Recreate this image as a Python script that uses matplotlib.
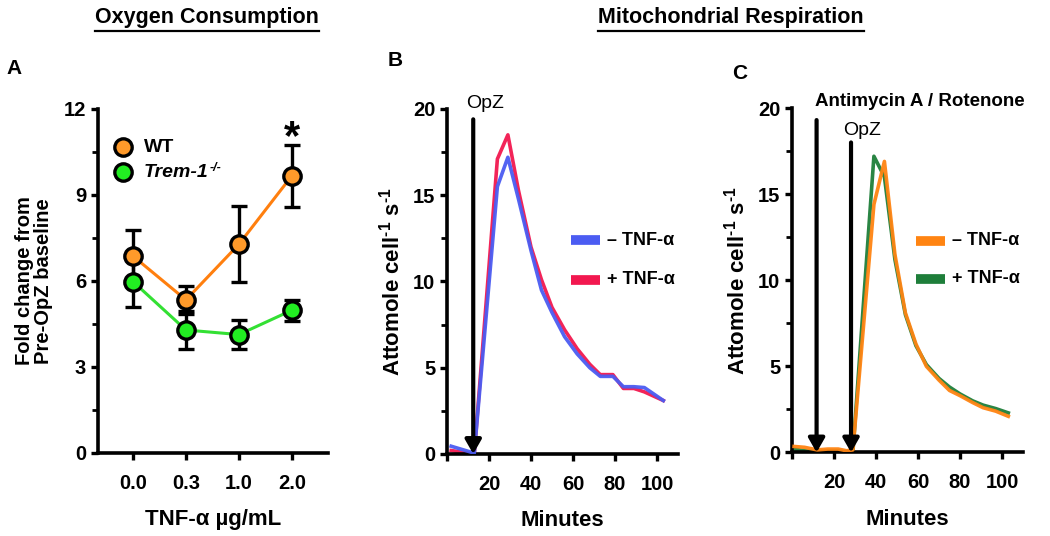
import matplotlib
matplotlib.use("Agg")
import matplotlib.pyplot as plt
from matplotlib.lines import Line2D
from matplotlib.ticker import MultipleLocator

plt.rcParams["font.family"] = ["Liberation Sans", "DejaVu Sans"]
plt.rcParams["mathtext.fontset"] = "custom"
plt.rcParams["mathtext.rm"] = "Liberation Sans:bold"
plt.rcParams["mathtext.bf"] = "Liberation Sans:bold"
plt.rcParams["mathtext.it"] = "Liberation Sans:italic:bold"

# Panel A: oxygen consumption (fold change), mean +/- error
doses = ["0.0", "0.3", "1.0", "2.0"]
wt_mean = [6.87, 5.34, 7.28, 9.67]
wt_err = [0.92, 0.50, 1.32, 1.08]
ko_mean = [5.98, 4.29, 4.13, 4.98]
ko_err = [0.90, 0.65, 0.52, 0.36]

# Panel B: respiration after OpZ, WT cells
b_min = [2, 13, 24, 29, 34, 40, 45, 50, 56, 62, 68, 73, 79, 84, 89, 94, 103]
b_minus = [0.45, 0.05, 15.5, 17.2, 14.8, 11.8, 9.5, 8.2, 6.8, 5.8, 5.0, 4.5, 4.5, 3.9, 3.9, 3.85, 3.1]
b_plus = [0.2, 0.0, 17.1, 18.5, 15.3, 12.0, 10.1, 8.5, 7.2, 6.1, 5.2, 4.6, 4.6, 3.8, 3.8, 3.6, 3.1]
b_opz = 12.5

# Panel C: respiration with antimycin A / rotenone then OpZ
c_min = [1, 6, 12, 17, 22, 26, 29, 39, 44, 49, 54, 59, 64, 70, 75, 80, 86, 91, 97, 103]
c_minus = [0.35, 0.3, 0.15, 0.2, 0.2, 0.1, 0.15, 14.4, 16.9, 11.5, 8.1, 6.3, 5.0, 4.2,
           3.6, 3.3, 2.9, 2.6, 2.4, 2.1]
c_plus = [0.2, 0.1, 0.05, 0.1, 0.1, 0.0, 0.05, 17.2, 16.0, 11.2, 8.0, 6.2, 5.1, 4.3,
          3.8, 3.4, 3.0, 2.75, 2.55, 2.3]
c_aa = 11.7
c_opz = 28.1

ORANGE = "#ff7f0e"
ORANGE_FACE = "#ff9a2a"
LIME = "#33e033"
LIME_FACE = "#22ee22"
BLUE = "#4b5cf2"
RED = "#f2184f"
C_ORANGE = "#ff8412"
C_GREEN = "#1e7e3a"

fig = plt.figure(figsize=(10.5, 5.36), dpi=100)


def style(ax):
    for s in ("top", "right"):
        ax.spines[s].set_visible(False)
    for s in ("left", "bottom"):
        ax.spines[s].set_linewidth(2.6)
    ax.tick_params(which="major", width=2.4, length=5, labelsize=14.5)
    ax.tick_params(which="minor", width=2.0, length=4)
    ax.tick_params(axis="x", which="minor", length=0)
    for lab in ax.get_xticklabels() + ax.get_yticklabels():
        lab.set_fontweight("bold")


# ---- A ----
axA = fig.add_axes([0.0933, 0.1549, 0.219, 0.6418])
xs = range(len(doses))
axA.plot(xs, wt_mean, color=ORANGE, lw=2.2, zorder=2)
axA.plot(xs, ko_mean, color=LIME, lw=2.2, zorder=2)
axA.errorbar(xs, wt_mean, yerr=wt_err, fmt="none", ecolor="k", elinewidth=2.4,
             capsize=6, capthick=2.4, zorder=3)
axA.errorbar(xs, ko_mean, yerr=ko_err, fmt="none", ecolor="k", elinewidth=2.4,
             capsize=6, capthick=2.4, zorder=3)
axA.plot(xs, wt_mean, "o", ms=12.5, mfc=ORANGE_FACE, mec="k", mew=2.4, zorder=4)
axA.plot(xs, ko_mean, "o", ms=12.5, mfc=LIME_FACE, mec="k", mew=2.4, zorder=4)
axA.set_xlim(-0.66, 3.68)
axA.set_ylim(0, 12)
axA.set_xticks(list(xs))
axA.set_xticklabels(doses)
axA.yaxis.set_major_locator(MultipleLocator(3))
axA.yaxis.set_minor_locator(MultipleLocator(1.5))
axA.tick_params(axis="x", pad=10)
style(axA)
axA.set_xlabel("TNF-\u03b1 \u00b5g/mL", fontsize=16, fontweight="bold", labelpad=12)
axA.set_ylabel("Fold change from\nPre-OpZ baseline", fontsize=14.5, fontweight="bold",
               linespacing=1.0, labelpad=8)
axA.text(3, 11.0, "*", ha="center", va="center", fontsize=30, fontweight="bold")
axA.plot([-0.19], [10.67], "o", ms=12.5, mfc=ORANGE_FACE, mec="k", mew=2.4, clip_on=False)
axA.plot([-0.19], [9.8], "o", ms=12.5, mfc=LIME_FACE, mec="k", mew=2.4, clip_on=False)
axA.text(0.2, 10.67, "WT", va="center", fontsize=14, fontweight="bold")
trem = axA.text(0.2, 9.8, "Trem-1", va="center", fontsize=14, fontweight="bold",
                fontstyle="italic")


def resp_panel(rect, x, y1, y2, col1, col2, leg_y1, leg_y2):
    ax = fig.add_axes(rect)
    ax.plot(x, y1, color=col1, lw=2.6, alpha=0.95, zorder=3)
    ax.plot(x, y2, color=col2, lw=2.6, alpha=0.95, zorder=2)
    ax.set_xlim(0, 110)
    ax.set_ylim(0, 20)
    ax.set_xticks([0, 20, 40, 60, 80, 100])
    ax.set_xticklabels(["", "20", "40", "60", "80", "100"])
    ax.yaxis.set_major_locator(MultipleLocator(5))
    ax.yaxis.set_minor_locator(MultipleLocator(2.5))
    ax.tick_params(axis="x", pad=10)
    style(ax)
    ax.set_xlabel("Minutes", fontsize=16, fontweight="bold", labelpad=12)
    ax.set_ylabel(r"Attomole cell$^{\text{-}1}$ s$^{\text{-}1}$", fontsize=16,
                  fontweight="bold", labelpad=6)
    ax.plot([59, 73], [leg_y1, leg_y1], color=col1, lw=7, solid_capstyle="butt",
            clip_on=False)
    ax.plot([59, 73], [leg_y2, leg_y2], color=col2, lw=7, solid_capstyle="butt",
            clip_on=False)
    ax.text(76, leg_y1, "\u2013 TNF-\u03b1", va="center", fontsize=13, fontweight="bold")
    ax.text(76, leg_y2, "+ TNF-\u03b1", va="center", fontsize=13, fontweight="bold")
    return ax


def arrow(ax, x, top):
    ax.annotate("", xy=(x, 0), xytext=(x, top), annotation_clip=False,
                arrowprops=dict(arrowstyle="-|>,head_length=0.7,head_width=0.4",
                                lw=3, color="k", shrinkA=0, shrinkB=0,
                                mutation_scale=12), zorder=5)


# ---- B ----
axB = resp_panel([0.4257, 0.153, 0.22, 0.6437], b_min, b_minus, b_plus, BLUE, RED,
                 12.4, 10.1)
arrow(axB, b_opz, 19.4)
axB.text(18, 20.3, "OpZ", ha="center", va="center", fontsize=14)

# ---- C ----
axC = resp_panel([0.7543, 0.1558, 0.22, 0.6427], c_min, c_minus, c_plus, C_ORANGE,
                 C_GREEN, 12.3, 10.1)
arrow(axC, c_aa, 19.3)
arrow(axC, c_opz, 18.0)
axC.text(33.3, 18.7, "OpZ", ha="center", va="center", fontsize=14)
axC.text(61, 20.4, "Antimycin A / Rotenone", ha="center", va="center", fontsize=13.5,
         fontweight="bold")

# panel letters
fig.text(0.006, 0.873, "A", fontsize=15, fontweight="bold", va="center")
fig.text(0.369, 0.888, "B", fontsize=15, fontweight="bold", va="center")
fig.text(0.697, 0.862, "C", fontsize=15, fontweight="bold", va="center")

# underlined section titles
titles = []
for cx, s in [(207, "Oxygen Consumption"), (731, "Mitochondrial Respiration")]:
    t = fig.text(cx / 1050, 1 - 18 / 536, s, ha="center", va="center", fontsize=15.5,
                 fontweight="bold")
    titles.append(t)
fig.canvas.draw()
r = fig.canvas.get_renderer()
W, H = fig.bbox.width, fig.bbox.height
for t in titles:
    bb = t.get_window_extent(r)
    yline = (bb.y0 - 2) / H
    fig.add_artist(Line2D([bb.x0 / W, bb.x1 / W], [yline, yline], color="k", lw=1.6))

# small superscript knockout mark after "Trem-1"
bb = trem.get_window_extent(r)
fig.text((bb.x1 + 1) / W, (bb.y1 - 4) / H, "-/-", fontsize=9, fontweight="bold",
         fontstyle="italic", va="center")

fig.savefig("out.png", dpi=100)
